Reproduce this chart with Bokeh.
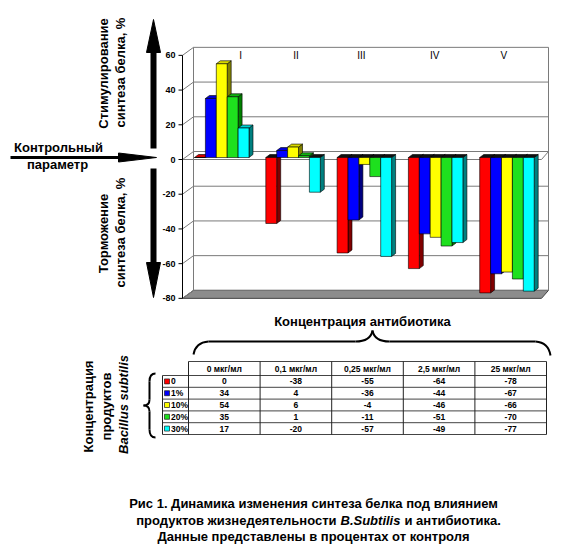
import math
from bokeh.plotting import figure
from bokeh.models import Range1d
from bokeh.core.properties import value
from bokeh.embed import file_html
from bokeh.resources import INLINE

# ---------------- data ----------------
groups = ["I", "II", "III", "IV", "V"]
concentrations = ["0 мкг/мл", "0,1 мкг/мл", "0,25 мкг/мл", "2,5 мкг/мл", "25 мкг/мл"]
series_names = ["0", "1%", "10%", "20%", "30%"]
vals_0 = [0, -38, -55, -64, -78]
vals_1 = [34, 4, -36, -44, -67]
vals_10 = [54, 6, -4, -46, -66]
vals_20 = [35, 1, -11, -51, -70]
vals_30 = [17, -20, -57, -49, -77]
y_ticks = [60, 40, 20, 0, -20, -40, -60, -80]
series_values = [vals_0, vals_1, vals_10, vals_20, vals_30]

# ---------------- styles ----------------
FONT = value("Liberation Sans")
front_colors = ["#FF0000", "#0000FF", "#FFFF00", "#1EE01E", "#00FFFF"]
side_colors = ["#800000", "#000080", "#808000", "#008000", "#008080"]
top_colors = ["#D00000", "#0000D0", "#D8D800", "#10B010", "#00D0D0"]

# ---------------- layout helpers (page pixels) ----------------
W, H = 572, 544
PX = 1.7357          # pixels per percent
ZERO = 157           # page y of the bars' zero level


def X(px):
    return px


def Y(py):
    return (ZERO - py) / PX


def D(pixels):
    return pixels / PX


p = figure(width=W, height=H, x_range=Range1d(0, W), y_range=Range1d(Y(H), Y(0)),
           output_backend="svg", toolbar_location=None,
           x_axis_location=None, y_axis_location=None, min_border=0,
           outline_line_color=None, background_fill_color="white",
           border_fill_color="white")
p.grid.visible = False

FX, BXL, BXR, FXR = 182, 193, 548, 541
FOFF, BOFF = -D(2), D(6)
ymin, ymax = min(y_ticks), max(y_ticks)

# floor
p.patch([X(FX), X(FXR), X(BXR), X(BXL)],
        [ymin + FOFF, ymin + FOFF, ymin + BOFF, ymin + BOFF],
        fill_color="#8C8C8C", line_color="#404040", line_width=1)

# back wall gridlines
p.segment(x0=[X(BXL)] * len(y_ticks), x1=[X(BXR)] * len(y_ticks),
          y0=[t + BOFF for t in y_ticks], y1=[t + BOFF for t in y_ticks],
          line_color="#7A7A7A", line_width=1)
# side wall diagonals
p.segment(x0=[X(FX)] * len(y_ticks), x1=[X(BXL)] * len(y_ticks),
          y0=[t + FOFF for t in y_ticks], y1=[t + BOFF for t in y_ticks],
          line_color="#7A7A7A", line_width=1)
# wall edges
p.segment(x0=[X(BXL), X(BXR)], x1=[X(BXL), X(BXR)],
          y0=[ymax + BOFF, ymax + BOFF], y1=[ymin + BOFF, ymin + BOFF],
          line_color="#7A7A7A", line_width=1)
# zero level (category axis plane)
p.line([X(FX), X(FXR), X(BXR)], [FOFF, FOFF, BOFF], line_color="#7A7A7A", line_width=1)

# front value axis
p.segment(x0=[X(FX)], x1=[X(FX)], y0=[ymax + FOFF], y1=[ymin + FOFF], line_color="black", line_width=1)
p.segment(x0=[X(FX - 4)] * len(y_ticks), x1=[X(FX)] * len(y_ticks),
          y0=[t + FOFF for t in y_ticks], y1=[t + FOFF for t in y_ticks],
          line_color="black", line_width=1)
p.text(x=[X(FX - 7)] * len(y_ticks), y=[t + FOFF for t in y_ticks], text=[str(t) for t in y_ticks],
       text_font=FONT, text_font_style="bold", text_font_size="9px",
       text_align="right", text_baseline="middle", text_color="black")

# ---------------- 3D bars ----------------
G0, GSTEP, BW = 194, 71.3, 10.9
DX, DY = 4, D(3)
fl, fr, ft, fb, fc = [], [], [], [], []
sxs, sys_, sc = [], [], []
txs, tys, tc = [], [], []
for g in range(len(groups)):
    for s in range(len(series_names)):
        v = series_values[s][g]
        x0 = X(G0 + g * GSTEP + s * BW)
        x1 = x0 + BW
        fl.append(x0); fr.append(x1)
        ft.append(max(v, 0)); fb.append(min(v, 0)); fc.append(front_colors[s])
        sxs.append([x1, x1 + DX, x1 + DX, x1])
        sys_.append([0, DY, v + DY, v])
        sc.append(side_colors[s])
        lv = max(v, 0)
        txs.append([x0, x1, x1 + DX, x0 + DX])
        tys.append([lv, lv, lv + DY, lv + DY])
        tc.append(top_colors[s] if v >= 0 else "#101010")

p.patches(sxs, sys_, fill_color=sc, line_color="black", line_width=0.6)
p.patches(txs, tys, fill_color=tc, line_color="black", line_width=0.6)
p.quad(left=fl, right=fr, top=ft, bottom=fb, fill_color=fc, line_color="black", line_width=0.6)

# group labels
label_shift = [19, 3, -3, -1, -3]
p.text(x=[X(G0 + g * GSTEP + 2.5 * BW + label_shift[g]) for g in range(len(groups))],
       y=[Y(55)] * len(groups), text=groups, text_font=FONT, text_font_size="10px",
       text_align="center", text_baseline="middle", text_color="black")

# ---------------- arrows ----------------
p.quad(left=[X(150), X(150), X(10)], right=[X(156), X(156), X(120)],
       top=[Y(50), Y(168), Y(155.5)], bottom=[Y(148), Y(265), Y(158.5)],
       fill_color="black", line_color=None)
p.patches([[X(146), X(160), X(153)], [X(146), X(160), X(153)], [X(118), X(118), X(156)]],
          [[Y(52), Y(52), Y(19)], [Y(262), Y(262), Y(297)], [Y(152.5), Y(161.5), Y(157)]],
          fill_color="black", line_color="black", line_width=1)

# side texts
p.text(x=[X(103), X(120), X(103), X(120)], y=[Y(73), Y(72), Y(233), Y(232)],
       text=["Стимулирование", "синтеза белка, %", "Торможение", "синтеза белка, %"],
       angle=math.pi / 2, text_font=FONT, text_font_style="bold", text_font_size="13px",
       text_align="center", text_baseline="middle", text_color="black")
p.text(x=[X(58), X(57)], y=[Y(147), Y(164)], text=["Контрольный", "параметр"],
       text_font=FONT, text_font_style="bold", text_font_size="13px",
       text_align="center", text_baseline="middle", text_color="black")
p.text(x=[X(362)], y=[Y(321)], text=["Концентрация антибиотика"],
       text_font=FONT, text_font_style="bold", text_font_size="13px",
       text_align="center", text_baseline="middle", text_color="black")
p.text(x=[X(88), X(106)], y=[Y(406), Y(406)], text=["Концентрация", "продуктов"],
       angle=math.pi / 2, text_font=FONT, text_font_style="bold", text_font_size="13px",
       text_align="center", text_baseline="middle", text_color="black")
p.text(x=[X(123)], y=[Y(404)], text=["Bacillus subtilis"],
       angle=math.pi / 2, text_font=FONT, text_font_style="bold italic", text_font_size="13px",
       text_align="center", text_baseline="middle", text_color="black")

# ---------------- braces ----------------
p.quadratic(x0=[X(193), X(355), X(372), X(535)], y0=[Y(354), Y(341), Y(330), Y(341)],
            x1=[X(208), X(372), X(389), X(550)], y1=[Y(341), Y(330), Y(341), Y(355)],
            cx=[X(195), X(370), X(374), X(548)], cy=[Y(342), Y(341), Y(341), Y(342)],
            line_color="black", line_width=2)
p.segment(x0=[X(208), X(389)], x1=[X(355), X(535)], y0=[Y(341), Y(341)], y1=[Y(341), Y(341)],
          line_color="black", line_width=2)
p.quadratic(x0=[X(155), X(149), X(143), X(149)], y0=[Y(373), Y(399), Y(405), Y(429)],
            x1=[X(149), X(143), X(149), X(155)], y1=[Y(381), Y(405), Y(411), Y(437)],
            cx=[X(149), X(149), X(149), X(149)], cy=[Y(373), Y(405), Y(405), Y(437)],
            line_color="black", line_width=2)
p.segment(x0=[X(149), X(149)], x1=[X(149), X(149)], y0=[Y(381), Y(411)], y1=[Y(399), Y(429)],
          line_color="black", line_width=2)

# ---------------- data table ----------------
TL, TC0, CW = 162, 188, 71.6
HT, HB, RH = 361, 375, 11.8
n_rows = len(series_names)
n_cols = len(concentrations)
TB = HB + RH * n_rows
TR = TC0 + CW * n_cols
hy = [HT] + [HB + RH * r for r in range(n_rows + 1)]
hx0 = [TC0] + [TL] * (n_rows + 1)
p.segment(x0=[X(a) for a in hx0], x1=[X(TR)] * len(hy), y0=[Y(a) for a in hy], y1=[Y(a) for a in hy],
          line_color="#444444", line_width=1)
vx = [TL] + [TC0 + CW * c for c in range(n_cols + 1)]
vy0 = [HB] + [HT] * (n_cols + 1)
p.segment(x0=[X(a) for a in vx], x1=[X(a) for a in vx], y0=[Y(a) for a in vy0], y1=[Y(TB)] * len(vx),
          line_color="#222222", line_width=1)
col_centers = [X(TC0 + CW * c + CW / 2) for c in range(n_cols)]
p.text(x=col_centers, y=[Y((HT + HB) / 2)] * n_cols, text=concentrations,
       text_font=FONT, text_font_style="bold", text_font_size="8.5px",
       text_align="center", text_baseline="middle", text_color="black")
row_centers = [Y(HB + RH * r + RH / 2) for r in range(n_rows)]
cx, cy, ct = [], [], []
for r in range(n_rows):
    for c in range(n_cols):
        cx.append(col_centers[c]); cy.append(row_centers[r]); ct.append(str(series_values[r][c]))
p.text(x=cx, y=cy, text=ct, text_font=FONT, text_font_style="bold", text_font_size="8.5px",
       text_align="center", text_baseline="middle", text_color="black")
p.rect(x=[X(166.5)] * n_rows, y=row_centers, width=5, height=D(5), fill_color=front_colors,
       line_color="#202020", line_width=0.7)
p.text(x=[X(170.5)] * n_rows, y=row_centers, text=series_names,
       text_font=FONT, text_font_style="bold", text_font_size="8.5px",
       text_align="left", text_baseline="middle", text_color="black")

# ---------------- caption ----------------
p.text(x=[X(313), X(313)], y=[Y(503), Y(536)],
       text=["Рис 1. Динамика изменения синтеза белка под влиянием",
             "Данные представлены в процентах от контроля"],
       text_font=FONT, text_font_style="bold", text_font_size="13px",
       text_align="center", text_baseline="middle", text_color="black")
p.text(x=[X(336)], y=[Y(520)], text=["продуктов жизнедеятельности"],
       text_font=FONT, text_font_style="bold", text_font_size="13px",
       text_align="right", text_baseline="middle", text_color="black")
p.text(x=[X(340)], y=[Y(520)], text=["B.Subtilis"],
       text_font=FONT, text_font_style="bold italic", text_font_size="13px",
       text_align="left", text_baseline="middle", text_color="black")
p.text(x=[X(404)], y=[Y(520)], text=["и антибиотика."],
       text_font=FONT, text_font_style="bold", text_font_size="13px",
       text_align="left", text_baseline="middle", text_color="black")

open("out.html", "w").write(file_html(p, INLINE))
